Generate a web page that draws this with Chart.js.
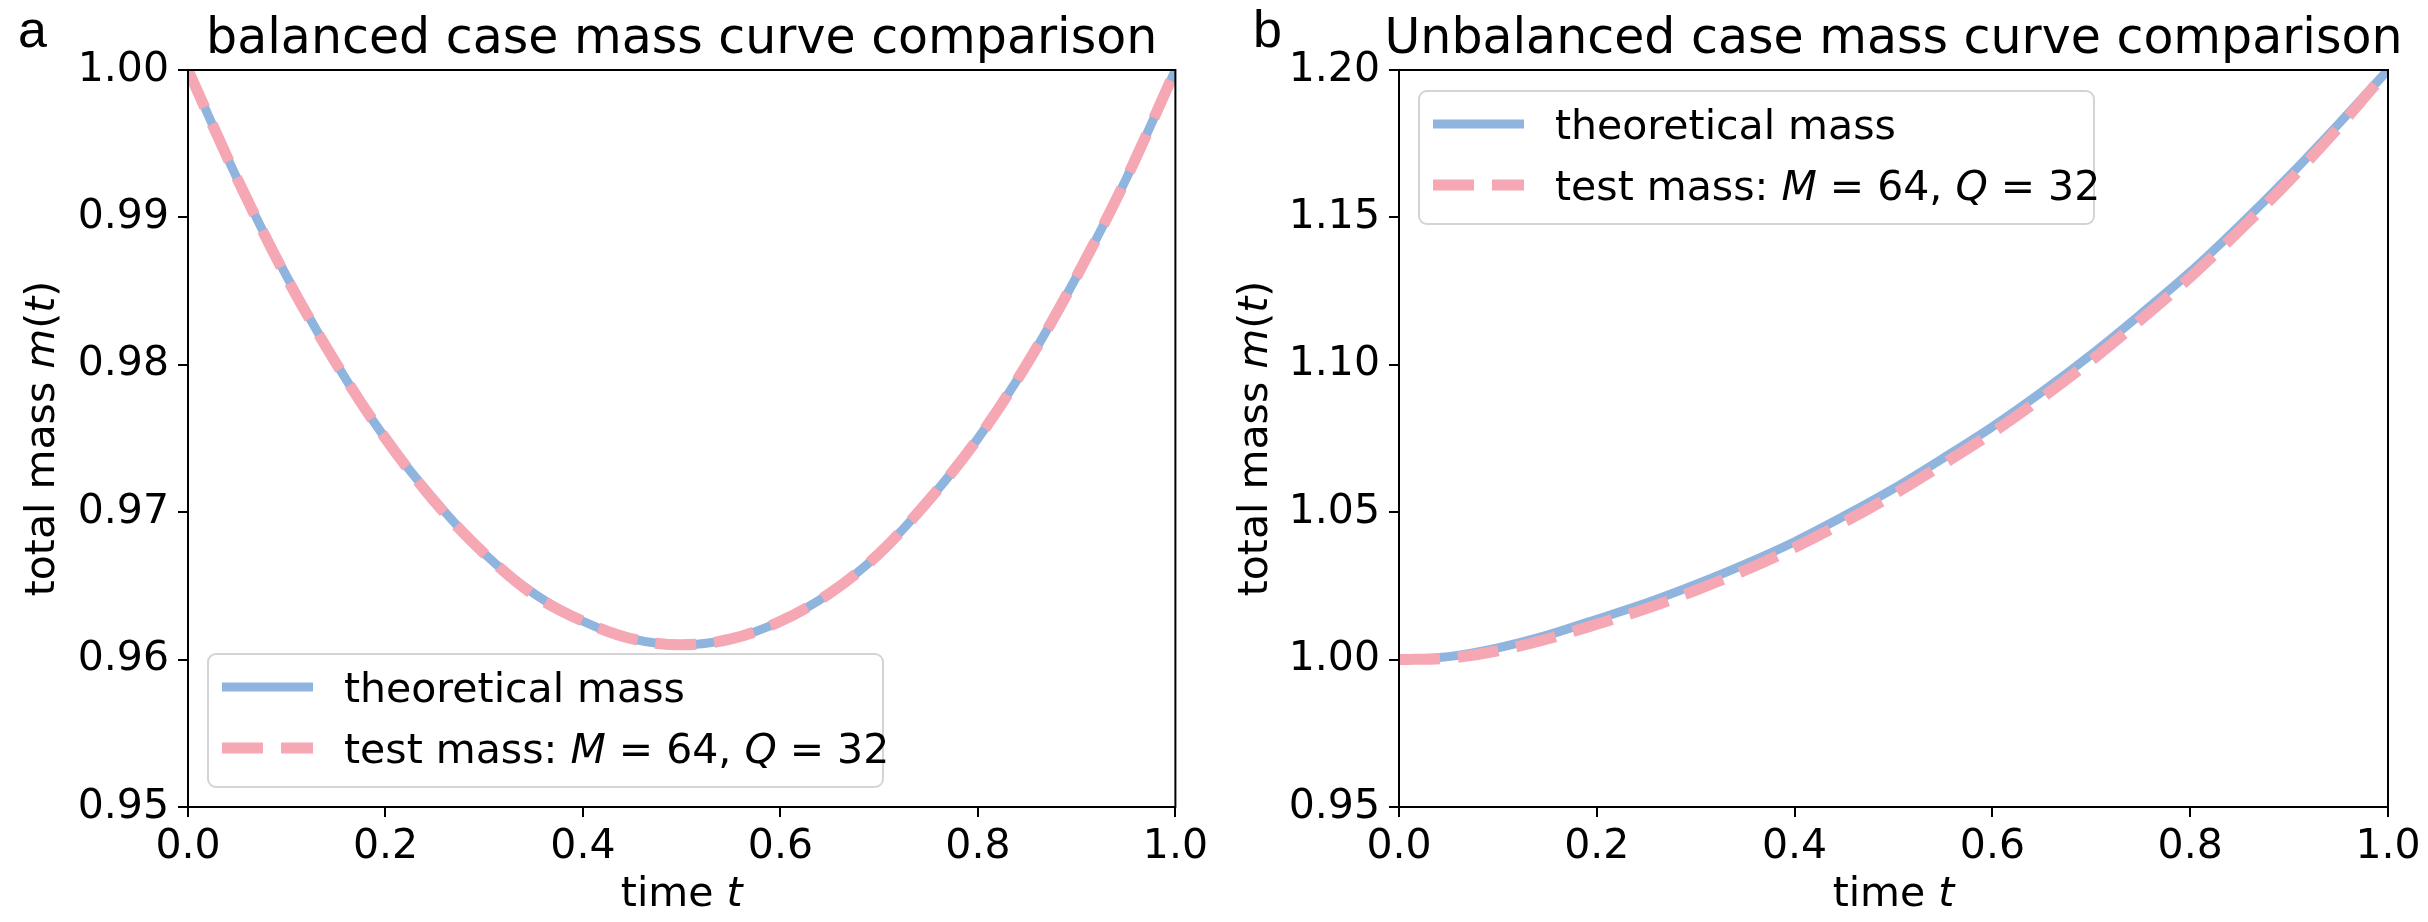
<!DOCTYPE html>
<html>
<head>
<meta charset="utf-8">
<script src="https://cdn.jsdelivr.net/npm/chart.js@4.4.0/dist/chart.umd.min.js"></script>
<style>
body { margin: 0; background: #fff; }
#wrap { position: relative; width: 2428px; height: 922px; }
canvas { position: absolute; top: 0; }
</style>
</head>
<body>
<div id="wrap">
  <canvas id="chartA" width="1214" height="922" style="left:0"></canvas>
  <canvas id="chartB" width="1214" height="922" style="left:1214px"></canvas>
</div>
<script>
// time samples and mass values
var times = [0, 0.05, 0.1, 0.15, 0.2, 0.25, 0.3, 0.35, 0.4, 0.45, 0.5,
             0.55, 0.6, 0.65, 0.7, 0.75, 0.8, 0.85, 0.9, 0.95, 1.0];
var balancedTheory = [1.0000, 0.9926, 0.9860, 0.9801, 0.9750, 0.9708, 0.9672, 0.9645, 0.9626, 0.9614, 0.9610,
                      0.9614, 0.9626, 0.9645, 0.9672, 0.9708, 0.9750, 0.9801, 0.9860, 0.9926, 1.0000];
var balancedTest   = [1.0000, 0.9926, 0.9859, 0.9801, 0.9750, 0.9707, 0.9672, 0.9644, 0.9626, 0.9614, 0.9610,
                      0.9614, 0.9626, 0.9645, 0.9672, 0.9708, 0.9750, 0.9801, 0.9860, 0.9926, 1.0000];
var unbalancedTheory = [1.0000, 1.0010, 1.0040, 1.0083, 1.0137, 1.0192, 1.0255, 1.0324, 1.0400, 1.0487, 1.0580,
                        1.0683, 1.0790, 1.0908, 1.1035, 1.1172, 1.1315, 1.1473, 1.1640, 1.1817, 1.2000];
var unbalancedTest   = [1.0000, 1.0005, 1.0030, 1.0070, 1.0120, 1.0173, 1.0235, 1.0303, 1.0380, 1.0466, 1.0560,
                        1.0663, 1.0770, 1.0888, 1.1015, 1.1153, 1.1297, 1.1456, 1.1624, 1.1805, 1.2000];

var xTicks = [0, 0.2, 0.4, 0.6, 0.8, 1.0];
var yTicksA = [0.95, 0.96, 0.97, 0.98, 0.99, 1.00];
var yTicksB = [0.95, 1.00, 1.05, 1.10, 1.15, 1.20];

var titles = ['balanced case mass curve comparison', 'Unbalanced case mass curve comparison'];
var letters = ['a', 'b'];
var seriesLabels = [
  [['theoretical mass', 0]],
  [['test mass: ', 0], ['M', 1], [' = 64, ', 0], ['Q', 1], [' = 32', 0]]
];

var BLUE = '#8fb4de';
var PINK = '#f5a7b4';
var FONT = '"DejaVu Sans"';

function pts(ys) {
  return times.map(function (t, i) { return { x: t, y: ys[i] }; });
}

function drawRich(ctx, parts, x, y, size, align) {
  var w = 0;
  parts.forEach(function (p) {
    ctx.font = (p[1] ? 'italic ' : '') + size + 'px ' + FONT;
    w += ctx.measureText(p[0]).width;
  });
  var cx = align === 'left' ? x : x - w / 2;
  ctx.textAlign = 'left';
  ctx.textBaseline = 'alphabetic';
  parts.forEach(function (p) {
    ctx.font = (p[1] ? 'italic ' : '') + size + 'px ' + FONT;
    ctx.fillText(p[0], cx, y);
    cx += ctx.measureText(p[0]).width;
  });
}

var decor = {
  id: 'decor',
  afterDraw: function (chart, args, o) {
    var ctx = chart.ctx, a = chart.chartArea;
    ctx.save();
    ctx.strokeStyle = '#000';
    ctx.lineWidth = 2;
    ctx.strokeRect(a.left, a.top, a.right - a.left, a.bottom - a.top);

    ctx.fillStyle = '#000';
    ctx.font = '52px "Liberation Sans"';
    ctx.textAlign = 'left';
    ctx.textBaseline = 'alphabetic';
    ctx.fillText(o.letter, o.letterX, 47);

    ctx.font = '49px ' + FONT;
    ctx.textAlign = 'center';
    ctx.fillText(o.title, (a.left + a.right) / 2, 53);

    drawRich(ctx, [['time ', 0], ['t', 1]], (a.left + a.right) / 2, 906, 41);

    ctx.save();
    ctx.translate(o.ylabelX, (a.top + a.bottom) / 2);
    ctx.rotate(-Math.PI / 2);
    drawRich(ctx, [['total mass ', 0], ['m', 1], ['(', 0], ['t', 1], [')', 0]], 0, 0, 41);
    ctx.restore();

    // legend box
    var lw = 675, lh = 133;
    var lx = a.left + 20;
    var ly = o.legendLow ? a.bottom - 20 - lh : a.top + 21;
    var r = 8;
    ctx.beginPath();
    ctx.moveTo(lx + r, ly);
    ctx.arcTo(lx + lw, ly, lx + lw, ly + lh, r);
    ctx.arcTo(lx + lw, ly + lh, lx, ly + lh, r);
    ctx.arcTo(lx, ly + lh, lx, ly, r);
    ctx.arcTo(lx, ly, lx + lw, ly, r);
    ctx.closePath();
    ctx.fillStyle = 'rgba(255,255,255,0.8)';
    ctx.fill();
    ctx.strokeStyle = '#d4d4d4';
    ctx.lineWidth = 2;
    ctx.stroke();

    chart.data.datasets.forEach(function (ds, i) {
      var cy = ly + 33 + i * 61;
      ctx.beginPath();
      ctx.setLineDash(ds.borderDash || []);
      ctx.lineCap = 'butt';
      ctx.strokeStyle = ds.borderColor;
      ctx.lineWidth = ds.borderWidth;
      ctx.moveTo(lx + 14, cy);
      ctx.lineTo(lx + 105, cy);
      ctx.stroke();
      ctx.setLineDash([]);
      ctx.fillStyle = '#000';
      drawRich(ctx, seriesLabels[i], lx + 136, cy + 15, 41, 'left');
    });
    ctx.restore();
  }
};

function makeChart(id, theory, test, yTicks, yMin, yMax, yDec, o) {
  return new Chart(document.getElementById(id), {
    type: 'line',
    data: {
      datasets: [
        { label: 'theoretical mass', data: pts(theory), borderColor: BLUE, borderWidth: 9,
          pointRadius: 0, cubicInterpolationMode: 'monotone', order: 2 },
        { label: 'test mass', data: pts(test), borderColor: PINK, borderWidth: 11,
          borderDash: [41, 18], borderCapStyle: 'butt', pointRadius: 0,
          cubicInterpolationMode: 'monotone', order: 1 }
      ]
    },
    options: {
      responsive: false,
      animation: false,
      devicePixelRatio: 1,
      layout: { padding: { left: 0, top: 70, right: o.padRight, bottom: 0 } },
      plugins: { legend: { display: false }, tooltip: { enabled: false }, decor: o },
      scales: {
        x: {
          type: 'linear', min: 0, max: 1,
          afterFit: function (s) { s.height = 115; },
          afterBuildTicks: function (s) { s.ticks = xTicks.map(function (v) { return { value: v }; }); },
          ticks: { color: '#000', padding: 6, maxRotation: 0, font: { family: 'DejaVu Sans', size: 41 },
                   callback: function (v) { return Number(v).toFixed(1); } },
          grid: { display: true, drawOnChartArea: false, drawTicks: true, tickLength: 10, color: '#000', lineWidth: 2 },
          border: { display: true, color: '#000', width: 2 }
        },
        y: {
          min: yMin, max: yMax,
          afterFit: function (s) { s.width = o.yWidth; },
          afterBuildTicks: function (s) { s.ticks = yTicks.map(function (v) { return { value: v }; }); },
          ticks: { color: '#000', padding: 9, font: { family: 'DejaVu Sans', size: 41 },
                   callback: function (v) { return Number(v).toFixed(yDec); } },
          grid: { display: true, drawOnChartArea: false, drawTicks: true, tickLength: 10, color: '#000', lineWidth: 2 },
          border: { display: true, color: '#000', width: 2 }
        }
      }
    },
    plugins: [decor]
  });
}

makeChart('chartA', balancedTheory, balancedTest, yTicksA, 0.95, 1.00, 2,
  { letter: letters[0], letterX: 18, title: titles[0], ylabelX: 54, legendLow: true, padRight: 36, yWidth: 188 });
makeChart('chartB', unbalancedTheory, unbalancedTest, yTicksB, 0.95, 1.20, 2,
  { letter: letters[1], letterX: 39, title: titles[1], ylabelX: 53, legendLow: false, padRight: 40, yWidth: 185 });
</script>
</body>
</html>
